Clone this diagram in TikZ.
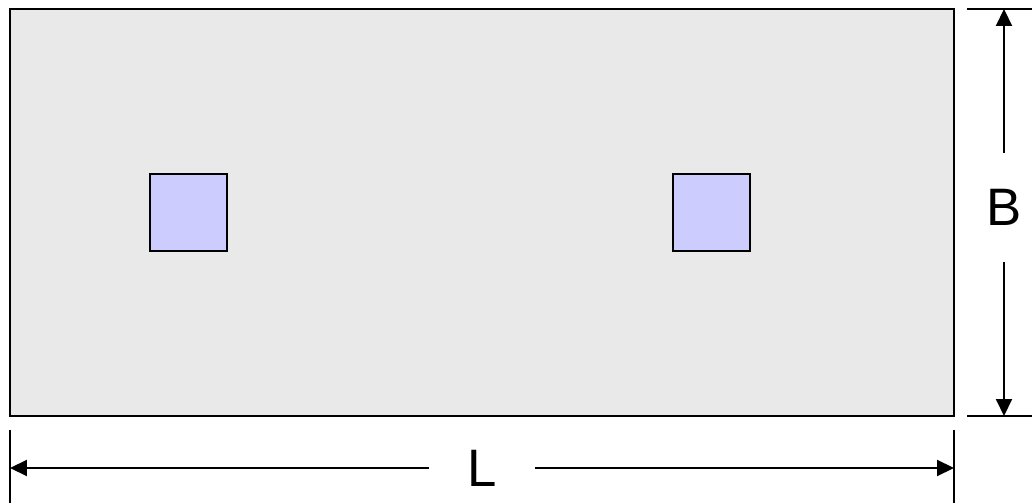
\documentclass[tikz,border=0pt]{standalone}
\usepackage{fontspec}
\setmainfont{Liberation Sans}
\usetikzlibrary{arrows.meta}
\definecolor{slabgray}{HTML}{E9E9E9}
\definecolor{colblue}{HTML}{CCCCFF}
\tikzset{
  slab/.style={draw,line width=1.2pt,fill=slabgray},
  column/.style={draw,line width=1.2pt,fill=colblue,minimum size=1.54cm,inner sep=0pt},
  dimline/.style={line width=1.2pt,-{Triangle[length=0.34cm,width=0.32cm]}},
  extline/.style={line width=1.2pt},
  dimlabel/.style={inner sep=0pt,font=\fontsize{30}{36}\selectfont}
}
\begin{document}
\begin{tikzpicture}[x=0.02cm,y=-0.02cm]
  \useasboundingbox (0,0) rectangle (1032,503);
  % Footing
  \draw[slab] (10,9) rectangle (954,416);
  % Columns
  \node[column] (c1) at (188.5,212.5) {};
  \node[column] (c2) at (711.5,212.5) {};

  % Extension lines
  \draw[extline] (967,9) -- (1032,9);
  \draw[extline] (967,416) -- (1032,416);
  \draw[extline] (10,430) -- (10,503);
  \draw[extline] (954,430) -- (954,503);

  % Dimension B
  \node[dimlabel,minimum height=2.18cm] (B) at (1004,207.5) {B};
  \coordinate (btop) at (1004,9);
  \coordinate (bbot) at (1004,416);
  \draw[dimline] (B.north) -- (btop);
  \draw[dimline] (B.south) -- (bbot);

  % Dimension L
  \node[dimlabel,minimum width=2.1cm] (L) at (482,468) {L};
  \coordinate (lleft) at (10,468);
  \coordinate (lright) at (954,468);
  \draw[dimline] (L.west) -- (lleft);
  \draw[dimline] (L.east) -- (lright);
\end{tikzpicture}
\end{document}
